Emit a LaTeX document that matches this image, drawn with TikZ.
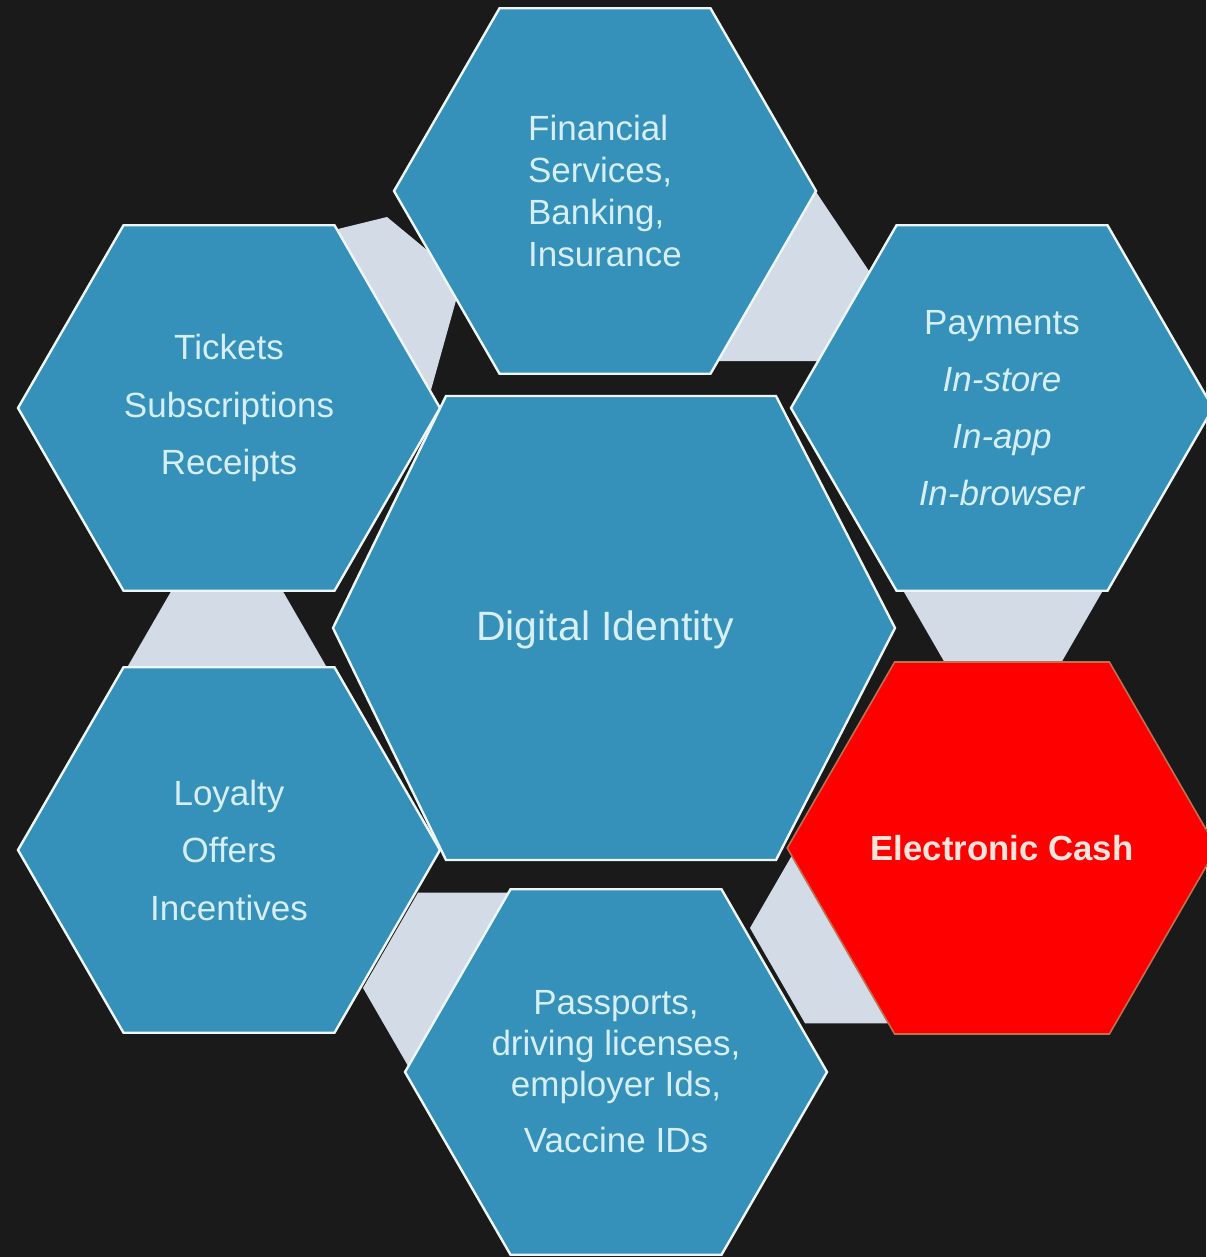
\documentclass[tikz,border=0pt]{standalone}
\usepackage{fontspec}
\setmainfont{Liberation Sans}
\usetikzlibrary{shapes.geometric}

\definecolor{bgdark}{HTML}{1A1A1A}
\definecolor{hexblue}{HTML}{3590BA}
\definecolor{hexline}{HTML}{EEF6FA}
\definecolor{hextext}{HTML}{D6EEF5}
\definecolor{linkgray}{HTML}{D2DBE6}
\definecolor{cashred}{HTML}{FF0000}
\definecolor{cashline}{HTML}{C0704E}
\definecolor{cashtext}{HTML}{FAE4DC}

\begin{document}
\begin{tikzpicture}[x=0.5pt,y=-0.5pt,
  hexa/.style={regular polygon,regular polygon sides=6,minimum size=211pt,inner sep=0pt,outer sep=0pt,fill=hexblue,draw=hexline,line width=1.2pt,text=hextext,align=center,font=\fontsize{17.5}{28.75}\selectfont},
  link/.style={regular polygon,regular polygon sides=6,minimum size=110pt,inner sep=0pt,outer sep=0pt,fill=linkgray},
  cash/.style={hexa,fill=cashred,draw=cashline,line width=0.8pt,text=cashtext,font=\fontsize{17.4}{20}\selectfont\bfseries},
  idhex/.style={fill=hexblue,draw=hexline,line width=1.2pt}
]
  \fill[bgdark] (0,0) rectangle (1206,1257);
  \useasboundingbox (0,0) rectangle (1206,1257);

  % light links sitting in the gaps
  \node[link] (l1) at (227,685) {};
  \node[link] (l2) at (1003,573) {};
  \node[link] (l5) at (860,928) {};
  \node[link] (l6) at (473,988) {};
  \fill[linkgray] (285,242) -- (387,217) -- (462,279) -- (431,390) -- (380,420) -- cycle;
  \fill[linkgray] (800,168) -- (875,280) -- (835,361) -- (700,361) -- cycle;

  % outer ring
  \node[hexa,align=left,font=\fontsize{17.5}{21}\selectfont] (fin) at (605,191)
    {Financial\\Services,\\Banking,\\Insurance};
  \node[hexa] (tix) at (229,408) {Tickets\\Subscriptions\\Receipts};
  \node[hexa,font=\fontsize{17.5}{28.5}\selectfont] (pay) at (1002,408)
    {Payments\\\textit{In-store}\\\textit{In-app}\\\textit{In-browser}};
  \node[hexa] (loy) at (229,850) {Loyalty\\Offers\\Incentives};
  \node[cash] (cash) at (1002,848) {Electronic Cash};
  \node[hexa,font=\fontsize{17.5}{20.5}\selectfont] (ids) at (616,1072)
    {Passports,\\driving licenses,\\employer Ids,\\[7.5pt]Vaccine IDs};

  % centre
  \draw[idhex] (333,628) -- (446,396) -- (776,396) -- (895,628) -- (776,860) -- (446,860) -- cycle;
  \node[text=hextext,font=\fontsize{20.5}{24}\selectfont] (ident) at (605,630) {Digital Identity};
\end{tikzpicture}
\end{document}
